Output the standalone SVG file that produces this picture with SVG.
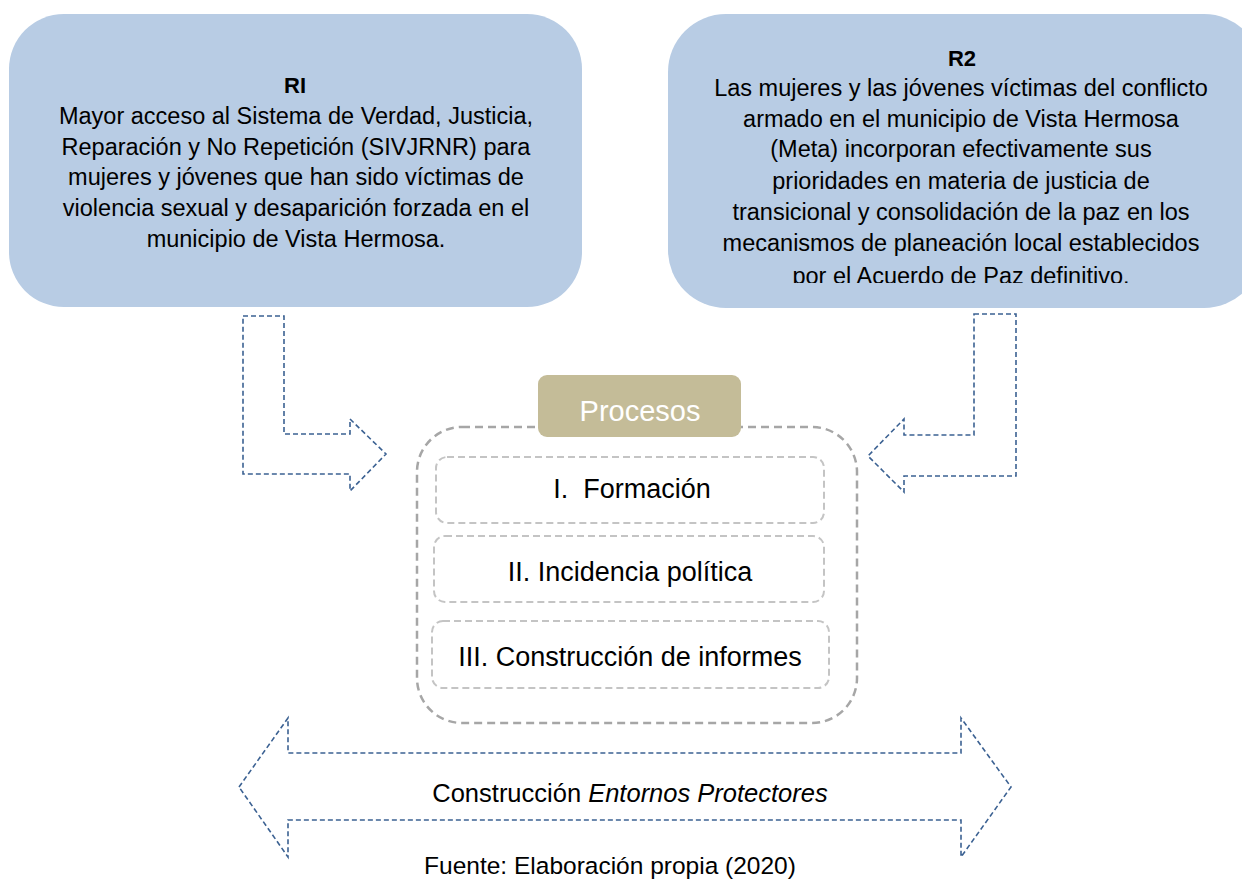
<svg xmlns="http://www.w3.org/2000/svg" width="1242" height="879" viewBox="0 0 1242 879">
  <style>
    .txt { font-family: "Liberation Sans", Arial, sans-serif; fill: #000; text-anchor: middle; }
    .rbox { fill: #b8cce4; stroke: none; }
    .rtxt { font-size: 23.5px; }
    .rhead { font-size: 22px; font-weight: bold; }
    .barrow { fill: none; stroke: #3b6192; stroke-width: 1.6; stroke-dasharray: 5 3; stroke-linejoin: miter; }
    .outer { fill: none; stroke: #a6a6a6; stroke-width: 2.5; stroke-dasharray: 8 5; }
    .inner { fill: none; stroke: #c4c4c4; stroke-width: 2; stroke-dasharray: 7 4; }
    .itxt { font-size: 27px; }
  </style>
  <defs>
    <clipPath id="r2clip">
      <rect x="600" y="0" width="700" height="283"/>
    </clipPath>
  </defs>
  <rect width="1242" height="879" fill="#ffffff"/>

  <g id="node-r1">
    <rect class="rbox" x="9" y="14" width="573" height="293" rx="55" ry="55"/>
    <text class="txt rhead" x="295" y="93">RI</text>
    <text class="txt rtxt" x="296" y="124">Mayor acceso al Sistema de Verdad, Justicia,</text>
    <text class="txt rtxt" x="296" y="155">Reparación y No Repetición (SIVJRNR) para</text>
    <text class="txt rtxt" x="296" y="185">mujeres y jóvenes que han sido víctimas de</text>
    <text class="txt rtxt" x="296" y="216">violencia sexual y desaparición forzada en el</text>
    <text class="txt rtxt" x="296" y="247">municipio de Vista Hermosa.</text>
  </g>

  <g id="node-r2">
    <rect class="rbox" x="668" y="14" width="594" height="294" rx="58" ry="58"/>
    <text class="txt rhead" x="962" y="66">R2</text>
    <g clip-path="url(#r2clip)">
      <text class="txt rtxt" x="961" y="96">Las mujeres y las jóvenes víctimas del conflicto</text>
      <text class="txt rtxt" x="961" y="127">armado en el municipio de Vista Hermosa</text>
      <text class="txt rtxt" x="961" y="157">(Meta) incorporan efectivamente sus</text>
      <text class="txt rtxt" x="961" y="189">prioridades en materia de justicia de</text>
      <text class="txt rtxt" x="961" y="220">transicional y consolidación de la paz en los</text>
      <text class="txt rtxt" x="961" y="251">mecanismos de planeación local establecidos</text>
      <text class="txt rtxt" x="961" y="284">por el Acuerdo de Paz definitivo.</text>
    </g>
  </g>

  <g id="connectors">
    <path class="barrow" d="M243,316 L284,316 L284,434 L350,434 L350,419 L386,454 L350,491 L350,474 L243,474 Z"/>
    <path class="barrow" d="M974,314 L1016,314 L1016,476 L904,476 L904,492 L868,456 L904,419 L904,435 L974,435 Z"/>
  </g>

  <g id="node-procesos">
    <rect class="outer" x="417" y="427" width="440" height="296" rx="45" ry="45"/>
    <rect x="538" y="375" width="203" height="62" rx="9" ry="9" fill="#c4bc98"/>
    <text class="txt" x="640" y="421" font-size="29" style="fill:#ffffff">Procesos</text>
  </g>

  <g id="node-formacion">
    <rect class="inner" x="436" y="457" width="388" height="66" rx="11" ry="11"/>
    <text class="txt itxt" x="632" y="498" xml:space="preserve">I.  Formación</text>
  </g>

  <g id="node-incidencia">
    <rect class="inner" x="434" y="536" width="390" height="66" rx="11" ry="11"/>
    <text class="txt itxt" x="630" y="581">II. Incidencia política</text>
  </g>

  <g id="node-informes">
    <rect class="inner" x="432" y="621" width="397" height="67" rx="11" ry="11"/>
    <text class="txt itxt" x="630" y="666">III. Construcción de informes</text>
  </g>

  <g id="node-entornos">
    <path class="barrow" d="M239,787 L288,718 L288,753 L961,753 L961,718 L1011,787 L961,857 L961,820 L288,820 L288,857 Z"/>
    <text class="txt" x="630" y="802" font-size="25.5">Construcción <tspan font-style="italic">Entornos Protectores</tspan></text>
  </g>

  <text class="txt" x="610" y="874" font-size="24.5">Fuente: Elaboración propia (2020)</text>
</svg>
